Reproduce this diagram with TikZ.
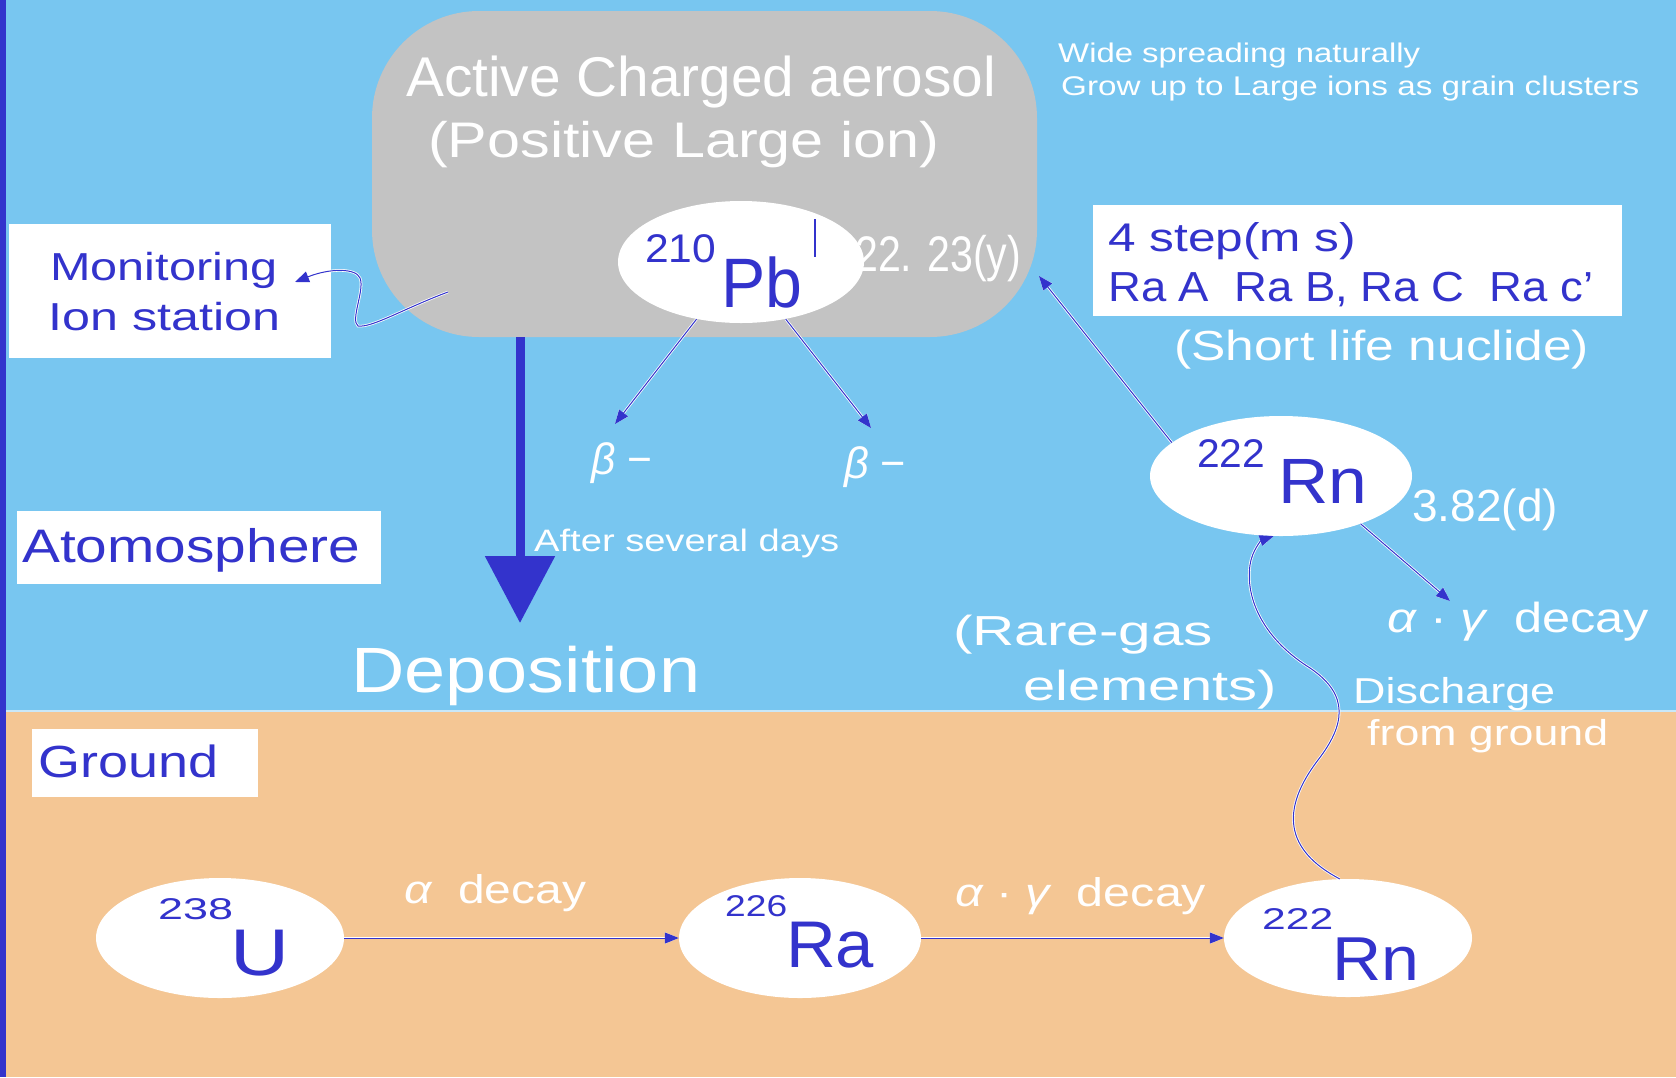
\documentclass[tikz,border=0pt]{standalone}
\usepackage{fontspec}
\setmainfont{Liberation Sans}
\usepackage{graphicx}
\usetikzlibrary{shapes.geometric,arrows.meta}
\definecolor{sky}{RGB}{120,198,240}
\definecolor{soil}{RGB}{244,198,148}
\definecolor{aero}{RGB}{195,195,195}
\definecolor{ink}{RGB}{51,51,204}
\newcommand\fitt[3]{{\fontsize{#1}{#1}\selectfont\resizebox{#2pt}{\height}{#3}}}
\begin{document}
\begin{tikzpicture}[x=1pt,y=-1pt,
  txt/.style={inner sep=0pt, anchor=base west},
  wtxt/.style={txt, text=white},
  btxt/.style={txt, text=ink},
  oval/.style={ellipse, fill=white, inner sep=0pt},
  wbox/.style={rectangle, fill=white, inner sep=0pt, anchor=north west},
  conn/.style={draw=ink, line width=1pt, preaction={draw=white, line width=2.6pt}, -{Triangle[length=14pt,width=11pt]}},
  deparrow/.style={draw=ink, line width=9pt, -{Triangle[length=67pt,width=68pt]}}
]
\useasboundingbox (0,0) rectangle (1676,1077);
% backgrounds
\fill[sky] (0,0) rectangle (1676,711);
\fill[soil] (0,711) rectangle (1676,1077);
\draw[white!60!sky, line width=1.5pt] (6,711) -- (1676,711);
\fill[ink] (0,0) rectangle (6,1077);

% aerosol cloud
\node[fill=aero, rounded corners=107pt, minimum width=665pt, minimum height=326pt, inner sep=0pt] (aerosol) at (704.5,174) {};
\node[oval, minimum width=246pt, minimum height=122pt] (pb) at (741,262) {};

% boxes
\node[wbox, minimum width=322pt, minimum height=134pt] (monbox) at (9,224) {};
\node[wbox, minimum width=529pt, minimum height=111pt] (stepbox) at (1093,205) {};
\node[wbox, minimum width=364pt, minimum height=73pt] (atmobox) at (17,511) {};
\node[wbox, minimum width=226pt, minimum height=68pt] (groundbox) at (32,729) {};

% ellipses
\node[oval, minimum width=262pt, minimum height=120pt] (rna) at (1281,476) {};
\node[oval, minimum width=248pt, minimum height=120pt] (u) at (220,938) {};
\node[oval, minimum width=242pt, minimum height=120pt] (ra) at (800,938) {};
\node[oval, minimum width=248pt, minimum height=118pt] (rng) at (1348,938) {};

% coordinates
\coordinate (tipL) at (615,424);
\coordinate (tipR) at (871,428);
\coordinate (tipAero) at (1039,276);
\coordinate (tipDecay) at (1450,601);
\coordinate (sqstart) at (448,292);
\coordinate (montip) at (295,282);
\coordinate (deptip) at (520,623);
\coordinate (pbbarA) at (815,219);
\coordinate (pbbarB) at (815,257);

% connectors
\draw[conn] (pb) -- (tipL);
\draw[conn] (pb) -- (tipR);
\draw[conn] (rna.163) -- (tipAero);
\draw[conn] (rna.-31) -- (tipDecay);
\draw[conn] (u) -- (ra);
\draw[conn] (ra) -- (rng);
\draw[conn] (rng.98) .. controls (1285,850) and (1280,810) .. (1318,760)
  .. controls (1345,725) and (1350,695) .. (1310,668)
  .. controls (1265,640) and (1245,600) .. (1250,565)
  .. controls (1252,550) and (1262,540) .. (rna.263);
\draw[conn] (sqstart) .. controls (405,308) and (372,328) .. (358,326)
  .. controls (350,320) and (365,290) .. (360,278)
  .. controls (356,268) and (330,268) .. (montip);
\draw[deparrow] (aerosol.south -| deptip) -- (deptip);
\draw[ink, line width=1.2pt] (pbbarA) -- (pbbarB);

% texts: aerosol
\node[wtxt] (tact) at (406,96) {\fitt{56}{590}{Active Charged aerosol}};
\node[wtxt] (tpos) at (428,157) {\fitt{50}{511}{(Positive Large ion)}};
\node[btxt] (t210) at (645,262) {\fitt{40}{71}{210}};
\node[btxt] (tpb) at (721,307) {\fitt{70}{81}{Pb}};
\node[wtxt] (thalf) at (855,271) {\fitt{50}{166}{22. 23(y)}};
\node[wtxt] (twide) at (1058,62) {\fitt{27}{362}{Wide spreading naturally}};
\node[wtxt] (tgrow) at (1061,95) {\fitt{27}{578}{Grow up to Large ions as grain clusters}};
% step box
\node[btxt] (tstep) at (1108,251) {\fitt{40}{248}{4 step(m s)}};
\node[btxt] (trac) at (1108,301) {\fitt{42}{485}{Ra A\ \ Ra B,\ Ra C\ \ Ra c'}};
\node[wtxt] (tshort) at (1174,360) {\fitt{42}{415}{(Short life nuclide)}};
% monitoring
\node[btxt] (tmon) at (50,280) {\fitt{39}{227}{Monitoring}};
\node[btxt] (tion) at (48,330) {\fitt{39}{232}{Ion station}};
% beta
\node[wtxt] (betaL) at (591,474) {\fitt{44}{61}{\itshape β\upshape\ −}};
\node[wtxt] (betaR) at (844,478) {\fitt{44}{62}{\itshape β\upshape\ −}};
\node[wtxt] (tafter) at (534,551) {\fitt{31}{305}{After several days}};
\node[wtxt] (tdep) at (351,692) {\fitt{64}{349}{Deposition}};
\node[btxt] (tatmo) at (22,562) {\fitt{47}{338}{Atomosphere}};
\node[btxt] (tground) at (38,777) {\fitt{45}{180}{Ground}};
% Rn atmosphere
\node[btxt] (t222a) at (1197,467) {\fitt{40}{68}{222}};
\node[btxt] (trna) at (1278,503) {\fitt{64}{89}{Rn}};
\node[wtxt] (t382) at (1412,521) {\fitt{45}{146}{3.82(d)}};
\node[wtxt] (tdecA) at (1387,632) {\fitt{42}{262}{\itshape α\upshape\ ·\ \itshape γ\upshape\ \ decay}};
\node[wtxt] (trare) at (953,645) {\fitt{42}{260}{(Rare-gas}};
\node[wtxt] (telem) at (1023,700) {\fitt{42}{254}{elements)}};
\node[wtxt] (tdis) at (1353,703) {\fitt{36}{202}{Discharge}};
\node[wtxt] (tfrom) at (1367,745) {\fitt{36}{241}{from ground}};
% ground
\node[btxt] (t238) at (158,919) {\fitt{30}{75}{238}};
\node[btxt] (tu) at (230,975) {\fitt{66}{59}{U}};
\node[btxt] (t226) at (725,916) {\fitt{30}{62}{226}};
\node[btxt] (tra) at (786,967) {\fitt{66}{88}{Ra}};
\node[btxt] (t222g) at (1262,929) {\fitt{30}{71}{222}};
\node[btxt] (trng) at (1332,980) {\fitt{62}{87}{Rn}};
\node[wtxt] (tdecU) at (404,903) {\fitt{40}{182}{\itshape α\upshape\ \ decay}};
\node[wtxt] (tdecR) at (955,906) {\fitt{40}{251}{\itshape α\upshape\ ·\ \itshape γ\upshape\ \ decay}};
\end{tikzpicture}
\end{document}
